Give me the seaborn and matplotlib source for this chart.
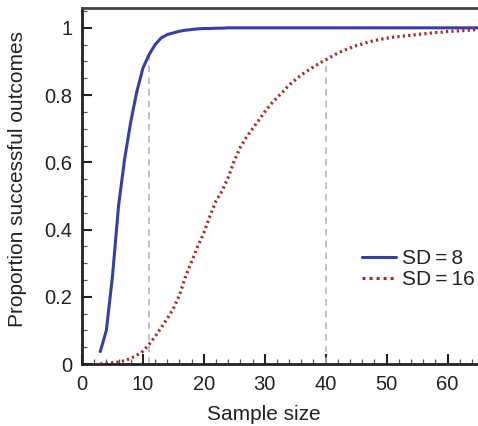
import numpy as np
import pandas as pd
import matplotlib
matplotlib.use("Agg")
import matplotlib.pyplot as plt
import seaborn as sns
from matplotlib.ticker import MultipleLocator

# sample sizes and proportion of successful outcomes
sample_size = list(range(3, 66))

sd8 = [0.037, 0.10, 0.26, 0.47, 0.61, 0.72, 0.81, 0.88, 0.92, 0.95,
       0.97, 0.98, 0.985, 0.99, 0.993, 0.995, 0.997, 0.998, 0.998, 0.999,
       0.999] + [1.0] * 42

sd16 = [0.0, 0.002, 0.004, 0.006, 0.010, 0.017, 0.026, 0.038, 0.058, 0.082,
        0.108, 0.135, 0.165, 0.205, 0.26, 0.305, 0.35, 0.39, 0.44, 0.485,
        0.515, 0.555, 0.605, 0.645, 0.675, 0.70, 0.725, 0.75, 0.773, 0.792,
        0.81, 0.83, 0.845, 0.86, 0.872, 0.884, 0.895, 0.905, 0.915, 0.925,
        0.933, 0.94, 0.947, 0.952, 0.958, 0.962, 0.966, 0.969, 0.972, 0.974,
        0.976, 0.978, 0.98, 0.982, 0.984, 0.986, 0.987, 0.989, 0.99, 0.991,
        0.992, 0.994, 0.995]

labels = ["SD\u2009=\u20098", "SD\u2009=\u200916"]

# sample sizes where ~90% success is reached (dashed markers)
mark_x = [11, 40]
mark_y = [0.92, 0.905]

df = pd.DataFrame({
    "n": sample_size * 2,
    "p": sd8 + sd16,
    "sd": [labels[0]] * len(sd8) + [labels[1]] * len(sd16),
})

sns.set_theme(style="ticks")
plt.rcParams["font.family"] = ["Liberation Sans", "DejaVu Sans"]

fig = plt.figure(figsize=(4.78, 4.26), dpi=100)
ax = fig.add_axes([0.1715, 0.1455, 0.8285, 0.8365])

ax.vlines(mark_x, 0, mark_y, colors="#b0b6bd", linestyles=(0, (4, 3)), linewidth=1.2, zorder=1)

sns.lineplot(data=df, x="n", y="p", hue="sd", style="sd",
             palette=["#3341a6", "#a82c2c"],
             dashes=[(None, None), (1, 1.3)], linewidth=2.2, ax=ax)
lines = ax.get_lines()
lines[1].set_linestyle((0, (0.7, 1.0)))
lines[1].set_linewidth(2.3)

ax.set_xlim(0, 65)
ax.set_ylim(0, 1.06)
ax.xaxis.set_major_locator(MultipleLocator(10))
ax.xaxis.set_minor_locator(MultipleLocator(2))
ax.yaxis.set_minor_locator(MultipleLocator(0.05))
ax.set_yticks([0, 0.2, 0.4, 0.6, 0.8, 1.0])
ax.set_yticklabels(["0", "0.2", "0.4", "0.6", "0.8", "1"])

ax.tick_params(which="major", direction="in", length=7, width=1.5, labelsize=14.5, colors="#222222")
ax.tick_params(which="minor", direction="in", length=3.5, width=0.9, colors="#555555")
ax.tick_params(axis="x", which="major", pad=8)
ax.tick_params(axis="y", which="major", pad=7)

for side in ["left", "bottom", "top"]:
    ax.spines[side].set_linewidth(2)
    ax.spines[side].set_color("#222222")
ax.spines["top"].set_color("#444444")
ax.spines["right"].set_visible(False)

ax.set_xlabel("Sample size", fontsize=15, color="#222222")
ax.set_ylabel("Proportion successful outcomes", fontsize=15, color="#222222")
ax.xaxis.set_label_coords(0.46, -0.115)
ax.yaxis.set_label_coords(-0.14, 0.52)

leg = ax.legend(loc="center left", bbox_to_anchor=(0.706, 0.266), frameon=False,
                borderpad=0, borderaxespad=0,
                fontsize=15, handlelength=1.67, handletextpad=0.25, labelspacing=0.12)
for t in leg.get_texts():
    t.set_color("#222222")

fig.savefig("out.png", dpi=100)
